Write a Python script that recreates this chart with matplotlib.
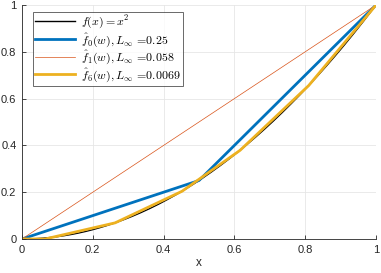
import numpy as np
import matplotlib
matplotlib.use("Agg")
import matplotlib.pyplot as plt

# Data
x_true = np.linspace(0, 1, 201)
y_true = x_true ** 2

f0_x = [0.0, 0.5, 1.0]
f0_y = [0.0, 0.25, 1.0]

f1_x = [0.0, 1.0]
f1_y = [0.0, 1.0]

f6_x = [0.0, 0.065, 0.263, 0.452, 0.616, 0.81, 1.0]
f6_y = [0.0, 0.0, 0.069, 0.204, 0.379, 0.656, 1.0]

labels = [r"$f(x) = x^2$",
          r"$\hat{f}_0(w), L_\infty$ =0.25",
          r"$\hat{f}_1(w), L_\infty$ =0.058",
          r"$\hat{f}_6(w), L_\infty$ =0.0069"]

ticks = [0, 0.2, 0.4, 0.6, 0.8, 1]
tick_labels = ["0", "0.2", "0.4", "0.6", "0.8", "1"]

plt.rcParams['font.family'] = ['Liberation Sans', 'DejaVu Sans']
plt.rcParams['mathtext.fontset'] = 'cm'

fig = plt.figure(figsize=(3.81, 2.73), dpi=100)
ax = fig.add_axes([22/381, 1 - 239/273, (376 - 22)/381, (239 - 5)/273])

ax.plot(x_true, y_true, color='black', lw=1.0, label=labels[0])
ax.plot(f0_x, f0_y, color='#0072BD', lw=2.0, label=labels[1])
ax.plot(f1_x, f1_y, color='#D95319', lw=0.5, label=labels[2])
ax.plot(f6_x, f6_y, color='#EDB120', lw=2.0, label=labels[3])

ax.set_xlim(0, 1)
ax.set_ylim(0, 1)
ax.set_xticks(ticks)
ax.set_xticklabels(tick_labels)
ax.set_yticks(ticks)
ax.set_yticklabels(tick_labels)
ax.grid(True, color='#e6e6e6', lw=0.6)
ax.set_axisbelow(True)
for s in ['top', 'right']:
    ax.spines[s].set_visible(False)
for s in ['left', 'bottom']:
    ax.spines[s].set_color('#262626')
    ax.spines[s].set_linewidth(0.6)
ax.tick_params(direction='in', length=3, width=0.6, color='#262626',
               labelsize=8, labelcolor='#262626', pad=4)
ax.set_xlabel('x', fontsize=8.5, color='#262626', labelpad=2)

leg = ax.legend(loc='upper left', bbox_to_anchor=(0.031, 0.97),
                prop={'family': 'cmr10', 'size': 8.6},
                frameon=True, fancybox=False, edgecolor='#262626',
                handlelength=3.4, handletextpad=0.5, labelspacing=0.0,
                borderpad=0.15, borderaxespad=0)
leg.get_frame().set_linewidth(0.6)

fig.savefig('out.png', dpi=100)
